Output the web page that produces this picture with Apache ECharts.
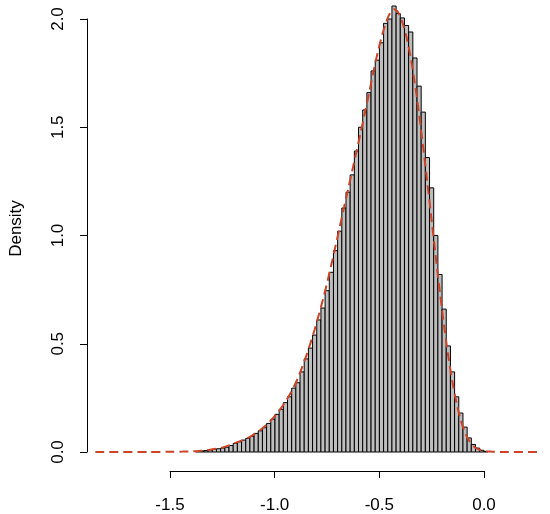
<!DOCTYPE html>
<html>
<head>
<meta charset="utf-8">
<script src="https://cdn.jsdelivr.net/npm/echarts@6/dist/echarts.min.js"></script>
<style>
html,body{margin:0;padding:0;background:#fff;}
#chart{width:550px;height:514px;}
</style>
</head>
<body>
<div id="chart"></div>
<script>
// Histogram bins: left edges (width 0.02) and densities
const binWidth = 0.02;
const binLeft = [
 -1.38,-1.36,-1.34,-1.32,-1.30,-1.28,-1.26,-1.24,-1.22,-1.20,
 -1.18,-1.16,-1.14,-1.12,-1.10,-1.08,-1.06,-1.04,-1.02,-1.00,
 -0.98,-0.96,-0.94,-0.92,-0.90,-0.88,-0.86,-0.84,-0.82,-0.80,
 -0.78,-0.76,-0.74,-0.72,-0.70,-0.68,-0.66,-0.64,-0.62,-0.60,
 -0.58,-0.56,-0.54,-0.52,-0.50,-0.48,-0.46,-0.44,-0.42,-0.40,
 -0.38,-0.36,-0.34,-0.32,-0.30,-0.28,-0.26,-0.24,-0.22,-0.20,
 -0.18,-0.16,-0.14,-0.12,-0.10,-0.08,-0.06,-0.04,-0.02,0.00
];
const binDensity = [
 0.003,0.005,0.007,0.010,0.012,0.015,0.018,0.022,0.030,0.040,
 0.047,0.055,0.063,0.072,0.086,0.098,0.112,0.132,0.151,0.174,
 0.197,0.228,0.255,0.295,0.320,0.370,0.430,0.480,0.540,0.610,
 0.665,0.745,0.830,0.930,1.020,1.127,1.200,1.280,1.390,1.500,
 1.580,1.660,1.760,1.810,1.890,1.980,2.000,2.060,2.025,2.005,
 1.970,1.940,1.820,1.690,1.570,1.360,1.220,1.000,0.820,0.660,
 0.490,0.370,0.255,0.180,0.115,0.065,0.035,0.018,0.008,0.003
];
// Density curve (dashed red)
const densX = [
 -1.86,-1.60,-1.50,-1.44,-1.40,
 -1.37,-1.35,-1.33,-1.31,-1.29,-1.27,-1.25,-1.23,-1.21,-1.19,
 -1.17,-1.15,-1.13,-1.11,-1.09,-1.07,-1.05,-1.03,-1.01,-0.99,
 -0.97,-0.95,-0.93,-0.91,-0.89,-0.87,-0.85,-0.83,-0.81,-0.79,
 -0.77,-0.75,-0.73,-0.71,-0.69,-0.67,-0.65,-0.63,-0.61,-0.59,
 -0.57,-0.55,-0.53,-0.51,-0.49,-0.47,-0.45,-0.43,-0.41,-0.39,
 -0.37,-0.35,-0.33,-0.31,-0.29,-0.27,-0.25,-0.23,-0.21,-0.19,
 -0.17,-0.15,-0.13,-0.11,-0.09,-0.07,-0.05,-0.03,-0.01,0.01,
 0.05,0.10,0.28
];
const densY = [
 0.000,0.000,0.001,0.002,0.003,
 0.004,0.006,0.008,0.011,0.014,0.017,0.021,0.027,0.034,0.042,
 0.049,0.056,0.065,0.076,0.088,0.102,0.118,0.136,0.156,0.178,
 0.204,0.232,0.264,0.300,0.342,0.392,0.445,0.503,0.566,0.634,
 0.706,0.783,0.866,0.952,1.040,1.127,1.213,1.300,1.387,1.475,
 1.565,1.655,1.750,1.838,1.915,1.980,2.025,2.045,2.030,1.985,
 1.915,1.820,1.700,1.560,1.405,1.240,1.070,0.900,0.735,0.580,
 0.442,0.322,0.223,0.146,0.090,0.052,0.028,0.014,0.007,0.003,
 0.001,0.000,0.000
];
const xTicks = [-1.5, -1.0, -0.5, 0.0];
const yTicks = [0.0, 0.5, 1.0, 1.5, 2.0];

const histData = binLeft.map((l, i) => [l, l + binWidth, binDensity[i]]);
const densData = densX.map((x, i) => [x, densY[i]]);

const chart = echarts.init(document.getElementById('chart'), null, {renderer: 'canvas'});
const font = '"Liberation Sans", Arial, sans-serif';
chart.setOption({
  animation: false,
  backgroundColor: '#ffffff',
  grid: [
    {left: 86, right: 3.5, top: 19, bottom: 62},
    {left: 170, right: 66, top: 460, bottom: 43}
  ],
  xAxis: [
    {gridIndex: 0, type: 'value', min: -1.9, max: 0.3, show: false},
    {gridIndex: 1, type: 'value', min: xTicks[0], max: xTicks[xTicks.length - 1], interval: 0.5,
     position: 'bottom',
     axisLine: {show: true, onZero: false, lineStyle: {color: '#000', width: 1}},
     axisTick: {show: true, inside: false, length: 7, lineStyle: {color: '#000'}},
     axisLabel: {show: true, margin: 26, color: '#000', fontSize: 17, fontFamily: font,
       formatter: v => v.toFixed(1)},
     splitLine: {show: false}}
  ],
  yAxis: [
    {gridIndex: 0, type: 'value', min: yTicks[0], max: yTicks[yTicks.length - 1], interval: 0.5,
     position: 'left',
     name: 'Density', nameLocation: 'middle', nameRotate: 90, nameGap: 62,
     nameTextStyle: {color: '#000', fontSize: 17, fontFamily: font, padding: [0, 0, 0, 14]},
     axisLine: {show: true, onZero: false, lineStyle: {color: '#000', width: 1}},
     axisTick: {show: true, inside: false, length: 7, lineStyle: {color: '#000'}},
     axisLabel: {show: true, rotate: 90, margin: 20, color: '#000', fontSize: 17, fontFamily: font,
       formatter: v => v.toFixed(1)},
     splitLine: {show: false}},
    {gridIndex: 1, type: 'value', show: false}
  ],
  series: [
    {
      type: 'custom', xAxisIndex: 0, yAxisIndex: 0, clip: false,
      data: histData,
      renderItem: function (params, api) {
        const p0 = api.coord([api.value(0), api.value(2)]);
        const p1 = api.coord([api.value(1), 0]);
        return {
          type: 'rect',
          shape: {x: p0[0], y: p0[1], width: p1[0] - p0[0], height: p1[1] - p0[1]},
          style: {fill: '#bebebe', stroke: '#000', lineWidth: 1}
        };
      },
      z: 2
    },
    {
      type: 'line', xAxisIndex: 0, yAxisIndex: 0, clip: false,
      data: densData, showSymbol: false, smooth: 0.3,
      lineStyle: {color: '#cc4428', width: 2, type: [9, 5]},
      z: 3
    }
  ]
});
</script>
</body>
</html>
